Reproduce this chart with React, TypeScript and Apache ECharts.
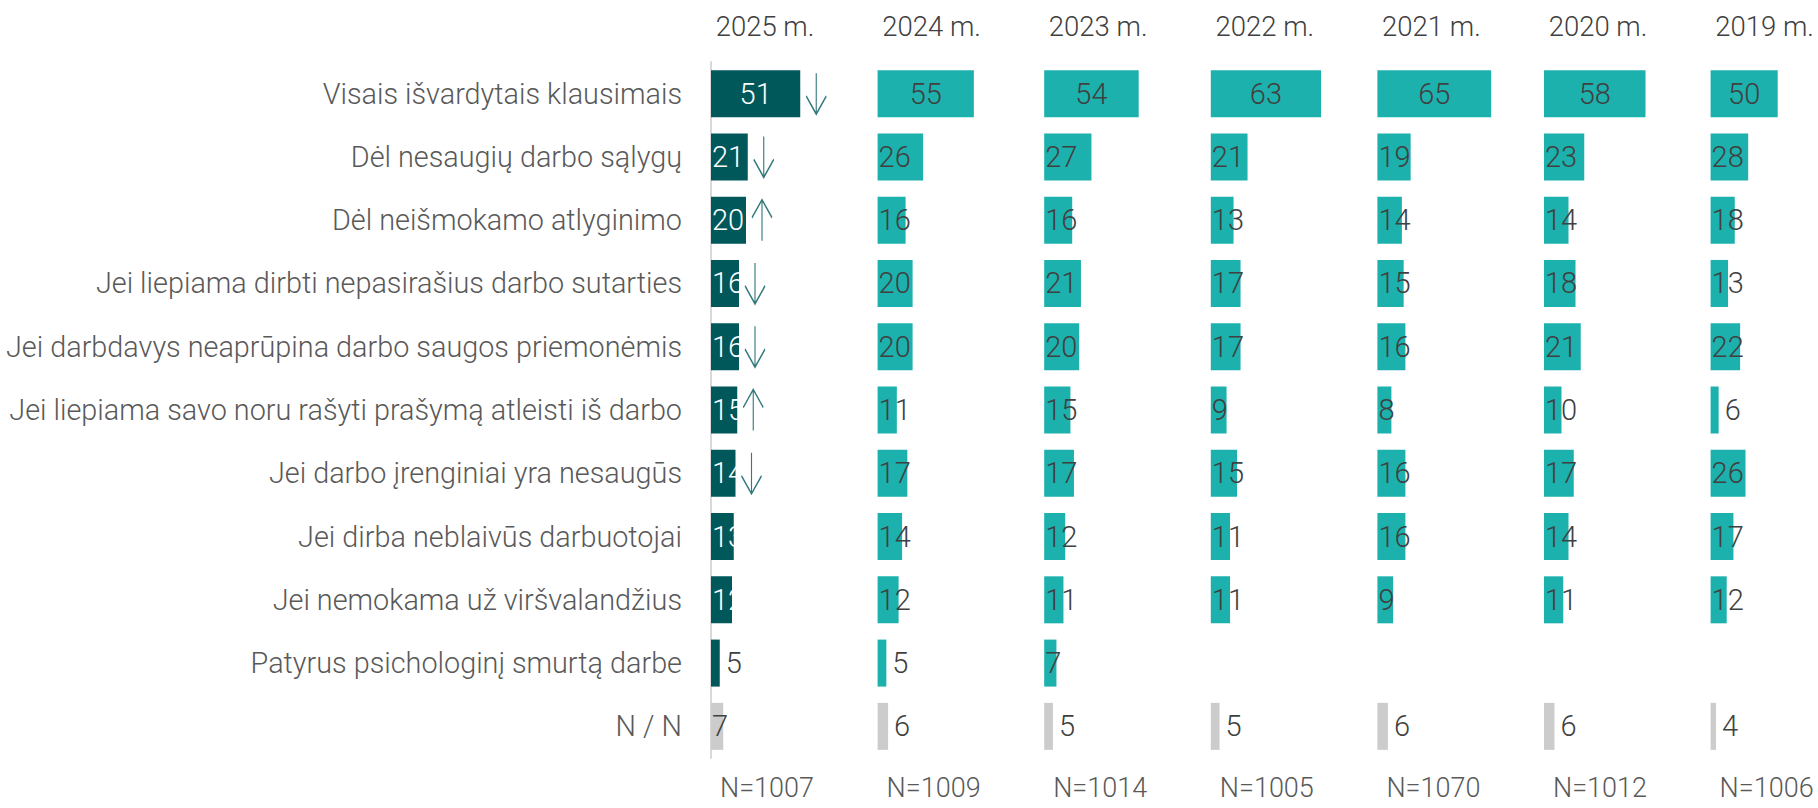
import React, { useEffect, useRef } from 'react';
import * as echarts from 'echarts';

const categories = [
  'Visais išvardytais klausimais',
  'Dėl nesaugių darbo sąlygų',
  'Dėl neišmokamo atlyginimo',
  'Jei liepiama dirbti nepasirašius darbo sutarties',
  'Jei darbdavys neaprūpina darbo saugos priemonėmis',
  'Jei liepiama savo noru rašyti prašymą atleisti iš darbo',
  'Jei darbo įrenginiai yra nesaugūs',
  'Jei dirba neblaivūs darbuotojai',
  'Jei nemokama už viršvalandžius',
  'Patyrus psichologinį smurtą darbe',
  'N / N',
];

const years = ['2025 m.', '2024 m.', '2023 m.', '2022 m.', '2021 m.', '2020 m.', '2019 m.'];
const sampleSizes = ['N=1007', 'N=1009', 'N=1014', 'N=1005', 'N=1070', 'N=1012', 'N=1006'];

const v2025 = [51, 21, 20, 16, 16, 15, 14, 13, 12, 5, 7];
const v2024 = [55, 26, 16, 20, 20, 11, 17, 14, 12, 5, 6];
const v2023 = [54, 27, 16, 21, 20, 15, 17, 12, 11, 7, 5];
const v2022 = [63, 21, 13, 17, 17, 9, 15, 11, 11, null, 5];
const v2021 = [65, 19, 14, 15, 16, 8, 16, 16, 9, null, 6];
const v2020 = [58, 23, 14, 18, 21, 10, 17, 14, 11, null, 6];
const v2019 = [50, 28, 18, 13, 22, 6, 26, 17, 12, null, 4];
const yearValues = [v2025, v2024, v2023, v2022, v2021, v2020, v2019];

// change vs previous year for 2025 (down / up / none)
const trend2025 = ['down', 'down', 'up', 'down', 'down', 'up', 'down', null, null, null, null];

const FONT = 'Roboto';
const PANEL_LEFT = 711;
const PANEL_STEP = 166.6;
const PANEL_W = 140;
const X_MAX = 80;
const TOP = 62;
const HEIGHT = 696;

const DARK = '#01585B';
const TEAL = '#1DB1AE';
const GREY_BAR = '#CCCCCC';
const TEXT = '#404040';
const TEXT_LIGHT = '#595959';

const DOWN_ARROW = 'path://M10,0 L10,41 M0,23 L10,41 L20,23';
const UP_ARROW = 'path://M10,41 L10,0 M0,18 L10,0 L20,18';

export default function App() {
  const ref = useRef<HTMLDivElement>(null);

  useEffect(() => {
    if (!ref.current) return;
    const chart = echarts.init(ref.current, null, { renderer: 'svg' });

    const grids: any[] = [];
    const xAxes: any[] = [];
    const yAxes: any[] = [];
    const series: any[] = [];
    const graphics: any[] = [];

    yearValues.forEach((vals, p) => {
      const left = PANEL_LEFT + p * PANEL_STEP;
      grids.push({ left, top: TOP, width: PANEL_W, height: HEIGHT, containLabel: false });
      xAxes.push({ type: 'value', gridIndex: p, min: 0, max: X_MAX, show: false });
      yAxes.push({
        type: 'category',
        gridIndex: p,
        inverse: true,
        data: categories,
        show: p === 0,
        axisLine: { show: p === 0, lineStyle: { color: '#D9D9D9', width: 2 } },
        axisTick: { show: false },
        axisLabel: {
          show: p === 0,
          margin: 29,
          fontFamily: FONT,
          fontWeight: 300,
          fontSize: 28.8,
          color: TEXT_LIGHT,
        },
      });
      const barColor = p === 0 ? DARK : TEAL;
      series.push({
        type: 'bar',
        xAxisIndex: p,
        yAxisIndex: p,
        barWidth: 47,
        z: 2,
        data: vals.map((v, i) => {
          if (v === null) return '-';
          const isNN = i === categories.length - 1;
          const outside = v <= 6;
          const position = i === 0 ? 'inside' : outside ? 'right' : 'insideLeft';
          const labelColor = p === 0 && !isNN && !outside ? '#FFFFFF' : TEXT;
          return {
            value: v,
            itemStyle: { color: isNN ? GREY_BAR : barColor },
            label: {
              show: true,
              position,
              distance: outside ? 6 : 1,
              color: labelColor,
              fontFamily: FONT,
              fontWeight: 300,
              fontSize: 29,
            },
          };
        }),
      });

      graphics.push({
        type: 'text',
        x: left + 54,
        y: 26,
        style: {
          text: years[p],
          font: `300 27.5px ${FONT}`,
          fill: TEXT,
          textAlign: 'center',
          textVerticalAlign: 'middle',
        },
      });
      graphics.push({
        type: 'text',
        x: left + 56,
        y: 788,
        style: {
          text: sampleSizes[p],
          font: `300 27px ${FONT}`,
          fill: TEXT_LIGHT,
          textAlign: 'center',
          textVerticalAlign: 'middle',
        },
      });
    });

    series.push({
      type: 'scatter',
      xAxisIndex: 0,
      yAxisIndex: 0,
      symbolSize: [20, 41],
      symbolOffset: [16, 0],
      z: 3,
      itemStyle: { color: 'none', borderColor: DARK, borderWidth: 1.6 },
      data: trend2025
        .map((t, i) =>
          t ? { value: [v2025[i], i], symbol: t === 'down' ? DOWN_ARROW : UP_ARROW } : null
        )
        .filter((d) => d !== null),
    });

    chart.setOption({
      animation: false,
      backgroundColor: '#FFFFFF',
      grid: grids,
      xAxis: xAxes,
      yAxis: yAxes,
      series,
      graphic: graphics,
    });

    return () => chart.dispose();
  }, []);

  return (
    <div
      ref={ref}
      style={{ position: 'absolute', left: 0, top: 0, width: 1818, height: 808 }}
    />
  );
}
